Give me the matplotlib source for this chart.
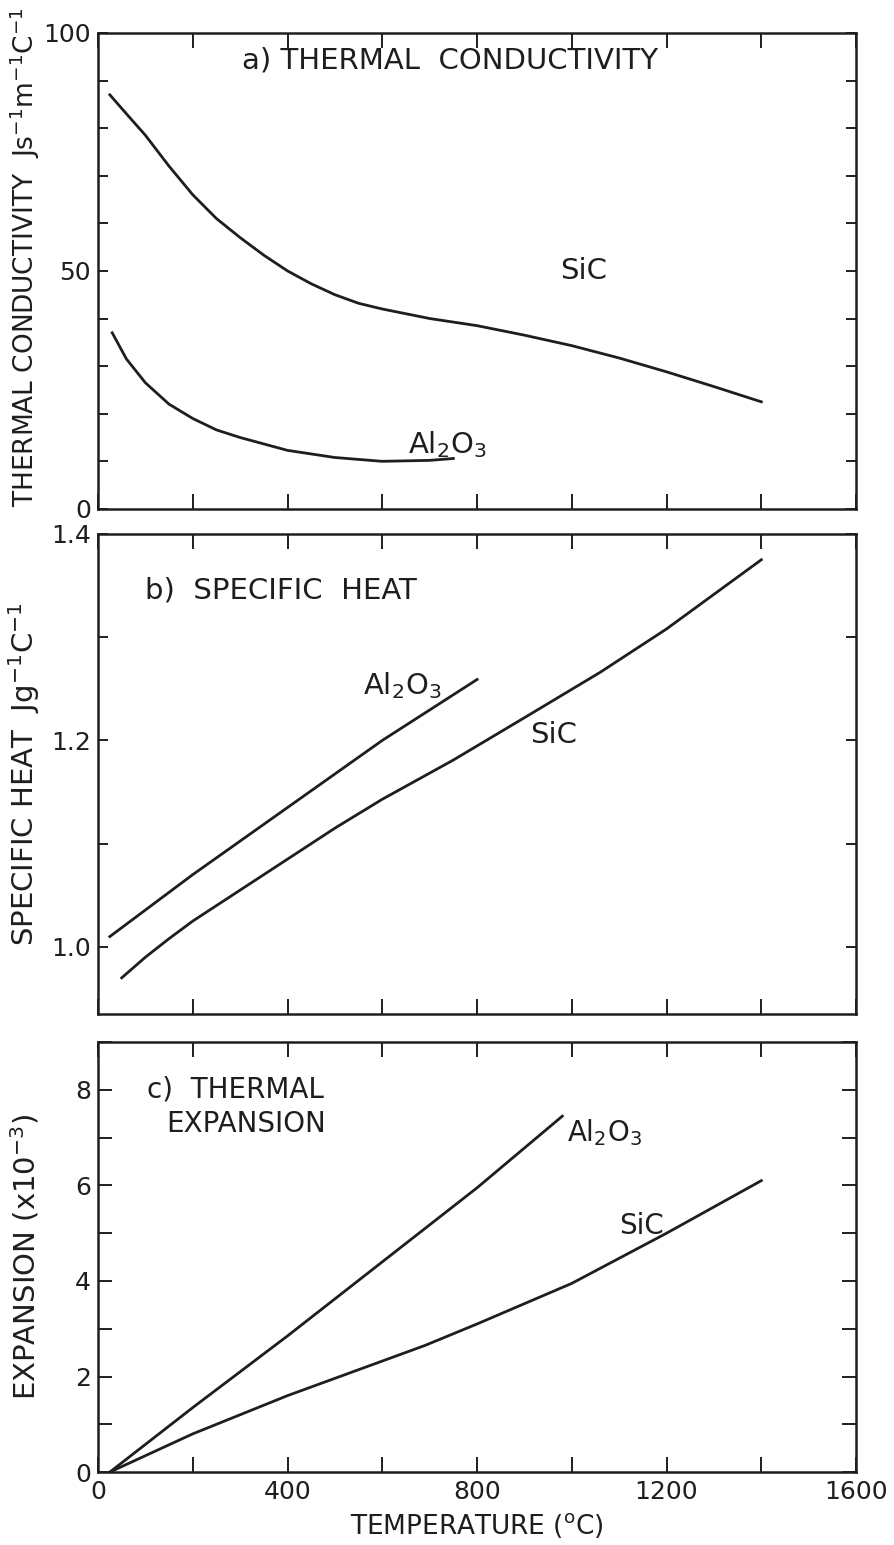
import numpy as np
import matplotlib.pyplot as plt

plt.rcParams['font.family'] = ['DejaVu Sans']
plt.rcParams['mathtext.default'] = 'regular'

# a) thermal conductivity (J s-1 m-1 C-1)
temp_k_sic = [25, 60, 100, 150, 200, 250, 300, 350, 400, 450, 500, 550, 600, 650,
              700, 800, 900, 1000, 1100, 1200, 1300, 1400]
k_sic = [87, 83, 78.5, 72, 66, 61, 57, 53.3, 50, 47.3, 45, 43.2, 42, 41, 40,
         38.5, 36.5, 34.3, 31.7, 28.8, 25.7, 22.5]
temp_k_al = [30, 60, 100, 150, 200, 250, 300, 400, 500, 600, 700, 750]
k_al = [37, 31.5, 26.5, 22, 19, 16.6, 15, 12.3, 10.8, 10, 10.2, 10.6]

# b) specific heat (J g-1 C-1)
temp_cp_al = [25, 200, 400, 600, 800]
cp_al = [1.01, 1.07, 1.135, 1.2, 1.259]
temp_cp_sic = [50, 100, 150, 200, 300, 400, 500, 600, 750, 900, 1060, 1200, 1400]
cp_sic = [0.97, 0.99, 1.008, 1.025, 1.055, 1.085, 1.115, 1.143, 1.181, 1.222, 1.266,
          1.308, 1.375]

# c) thermal expansion (x10-3)
temp_ex_al = [25, 200, 400, 600, 800, 980]
ex_al = [0, 1.35, 2.85, 4.4, 5.95, 7.45]
temp_ex_sic = [25, 200, 400, 690, 800, 1000, 1200, 1400]
ex_sic = [0, 0.8, 1.6, 2.65, 3.1, 3.95, 5.0, 6.1]

xticks = list(range(0, 1601, 200))
xlabels = ['0', '', '400', '', '800', '', '1200', '', '1600']

ink = '#1e1e1e'
fs_tick = 18
fs_lab = 19
fs_txt = 21

fig = plt.figure(figsize=(8.95, 15.45), dpi=100)
ax1 = fig.add_axes([0.1095, 0.6706, 0.847, 0.3081])
ax2 = fig.add_axes([0.1095, 0.3437, 0.847, 0.3107])
ax3 = fig.add_axes([0.1095, 0.0472, 0.847, 0.2783])

for ax in (ax1, ax2, ax3):
    ax.set_xlim(0, 1600)
    ax.set_xticks(xticks)
    ax.set_xticklabels([])
    for s in ax.spines.values():
        s.set_linewidth(1.8)
        s.set_color(ink)
    ax.tick_params(axis='x', which='both', direction='in', top=True, bottom=True,
                   length=11, width=1.4, color=ink, labelsize=fs_tick, labelcolor=ink, pad=6)
    ax.tick_params(axis='y', which='both', direction='in', left=True, right=True,
                   length=7, width=1.4, color=ink, labelsize=fs_tick, labelcolor=ink, pad=5)

# panel a
ax1.plot(temp_k_sic, k_sic, color=ink, lw=2)
ax1.plot(temp_k_al, k_al, color=ink, lw=2)
ax1.set_ylim(0, 100)
ax1.set_yticks(list(range(0, 101, 10)))
ax1.set_yticklabels(['0', '', '', '', '', '50', '', '', '', '', '100'])
ax1.set_ylabel('THERMAL CONDUCTIVITY  Js$^{-1}$m$^{-1}$C$^{-1}$', fontsize=fs_lab, color=ink)
ax1.yaxis.set_label_coords(-0.074, 0.53)
ax1.text(0.19, 0.943, 'a) THERMAL  CONDUCTIVITY', transform=ax1.transAxes, fontsize=fs_txt,
         color=ink, va='center')
ax1.text(975, 50, 'SiC', fontsize=fs_txt, color=ink, va='center')
ax1.text(655, 13.5, 'Al$_2$O$_3$', fontsize=fs_txt, color=ink, va='center')

# panel b
ax2.plot(temp_cp_al, cp_al, color=ink, lw=2)
ax2.plot(temp_cp_sic, cp_sic, color=ink, lw=2)
ax2.set_ylim(0.935, 1.4)
ax2.set_yticks([1.0, 1.1, 1.2, 1.3, 1.4])
ax2.set_yticklabels(['1.0', '', '1.2', '', '1.4'])
ax2.set_ylabel('SPECIFIC HEAT  Jg$^{-1}$C$^{-1}$', fontsize=21, color=ink)
ax2.yaxis.set_label_coords(-0.074, 0.5)
ax2.text(0.062, 0.883, 'b)  SPECIFIC  HEAT', transform=ax2.transAxes, fontsize=fs_txt,
         color=ink, va='center')
ax2.text(559, 1.253, 'Al$_2$O$_3$', fontsize=fs_txt, color=ink, va='center')
ax2.text(912, 1.205, 'SiC', fontsize=fs_txt, color=ink, va='center')

# panel c
ax3.plot(temp_ex_al, ex_al, color=ink, lw=2)
ax3.plot(temp_ex_sic, ex_sic, color=ink, lw=2)
ax3.set_ylim(0, 9)
ax3.set_yticks(list(range(0, 10)))
ax3.set_yticklabels(['0', '', '2', '', '4', '', '6', '', '8', ''])
ax3.tick_params(axis='y', length=10)
ax3.set_xticklabels(xlabels)
ax3.set_ylabel('EXPANSION (x10$^{-3}$)', fontsize=21, color=ink)
ax3.yaxis.set_label_coords(-0.074, 0.5)
ax3.set_xlabel('TEMPERATURE ($^{o}$C)', fontsize=fs_lab, color=ink, labelpad=5)
ax3.text(0.064, 0.89, 'c)  THERMAL', transform=ax3.transAxes, fontsize=20,
         color=ink, va='center')
ax3.text(0.09, 0.81, 'EXPANSION', transform=ax3.transAxes, fontsize=20,
         color=ink, va='center')
ax3.text(990, 7.1, 'Al$_2$O$_3$', fontsize=20, color=ink, va='center')
ax3.text(1100, 5.15, 'SiC', fontsize=20, color=ink, va='center')

fig.savefig('out.png', dpi=100)
